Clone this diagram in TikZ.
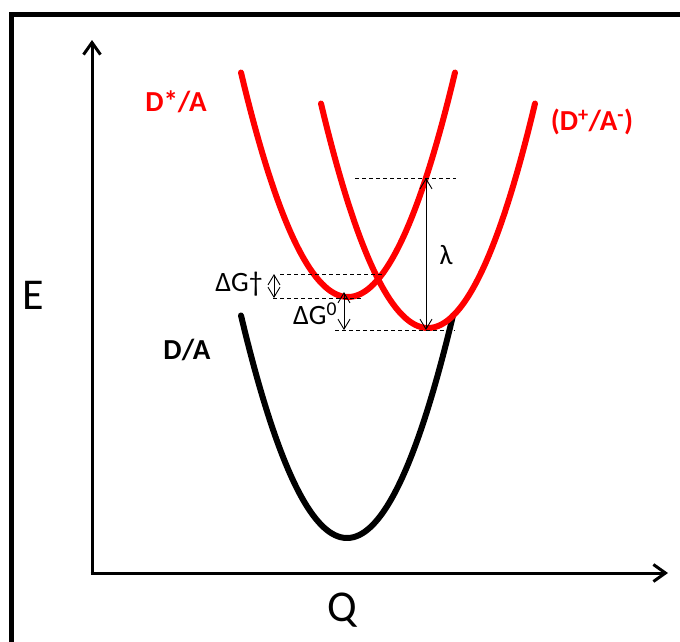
\documentclass[tikz,border=0pt]{standalone}
\usepackage{fontspec}
\setmainfont{Carlito}
\usetikzlibrary{arrows.meta}
\definecolor{pred}{RGB}{255,0,0}
\tikzset{
  axisline/.style={line width=3pt,-{Straight Barb[length=12pt,width=17pt,line width=3pt]}},
  curve/.style={line width=6pt,line cap=round},
  guide/.style={line width=0.9pt,dash pattern=on 4pt off 3pt},
  dimarrow/.style={line width=0.9pt,{Straight Barb[length=10pt,width=12pt]}-{Straight Barb[length=10pt,width=12pt]}},
  lbl/.style={inner sep=0pt,font=\fontsize{28}{30}\selectfont},
  blbl/.style={inner sep=0pt,font=\fontsize{29}{30}\selectfont\bfseries},
  biglbl/.style={inner sep=0pt,font=\fontsize{44}{46}\selectfont}
}
\begin{document}
\begin{tikzpicture}[x=1pt,y=-1pt]
\useasboundingbox (0,0) rectangle (680,641);
% frame
\begin{scope}
\clip (0,0) rectangle (680,641);
\draw[line width=5pt] (11.5,660) -- (11.5,14) -- (700,14);
\end{scope}
% axes
\coordinate (o) at (92,573);
\coordinate (ytip) at (92,40);
\coordinate (xtip) at (668,573);
\draw[axisline] (o) -- (ytip);
\draw[axisline] ([xshift=-1.5pt]o) -- (xtip);
% curves
\draw[curve,black] plot[domain=241:453,samples=80,smooth] (\x,{538-0.0198*(\x-347)^2});
\draw[curve,pred] plot[domain=241:455,samples=80,smooth] (\x,{297-0.0196*(\x-348)^2});
\draw[curve,pred] plot[domain=321:535,samples=80,smooth] (\x,{328-0.0196*(\x-428)^2});
% guide lines
\coordinate (g1a) at (280,274); \coordinate (g1b) at (385,274);
\coordinate (g2a) at (273,298); \coordinate (g2b) at (363,298);
\coordinate (g3a) at (335,330); \coordinate (g3b) at (455,330);
\coordinate (g4a) at (355,178); \coordinate (g4b) at (456,178);
\draw[guide] (g1a) -- (g1b);
\draw[guide] (g2a) -- (g2b);
\draw[guide] (g3a) -- (g3b);
\draw[guide] (g4a) -- (g4b);
% dimension arrows
\coordinate (dgta) at (274,274); \coordinate (dgtb) at (274,298);
\coordinate (dg0a) at (344,292); \coordinate (dg0b) at (344,330);
\coordinate (lama) at (426,178); \coordinate (lamb) at (426,330);
\draw[dimarrow] (dgta) -- (dgtb);
\draw[dimarrow] (dg0a) -- (dg0b);
\draw[dimarrow] (lama) -- (lamb);
% labels
\node[blbl,text=pred] (dstar) at (176,102) {D*/A};
\node[blbl,text=pred] (dpa) at (592,122) {(D\textsuperscript{+}/A\textsuperscript{-})};
\node[blbl] (da) at (187,350) {D/A};
\node[lbl] (dgt) at (239,284) {ΔG†};
\node[lbl] (dg0) at (315,314) {ΔG\textsuperscript{0}};
\node[lbl] (lam) at (446,255) {λ};
\node[biglbl] (e) at (33,295) {E};
\node[biglbl] (q) at (342,610) {Q};
\end{tikzpicture}
\end{document}
